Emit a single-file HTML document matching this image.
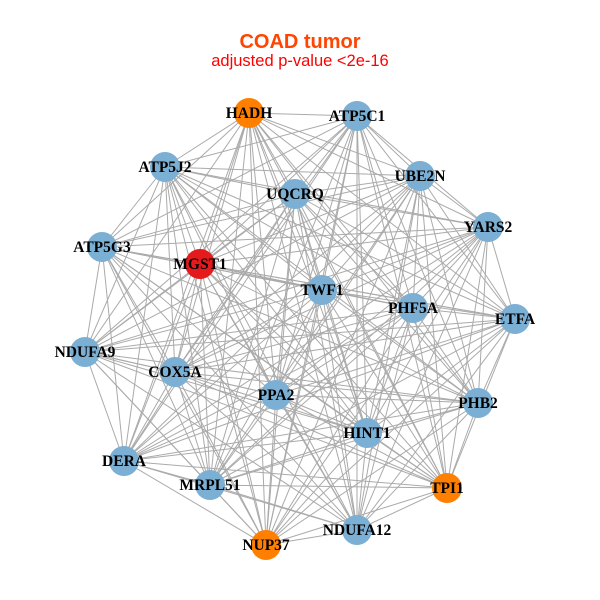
<!DOCTYPE html>
<html><head><meta charset="utf-8"><style>
body{margin:0;background:#fff}
svg{display:block}
.t{font-family:"Liberation Serif",serif;font-weight:bold;font-size:15.5px;text-anchor:middle;fill:#000}
</style></head><body>
<svg id="s" width="600" height="600" viewBox="0 0 600 600">
<text x="300" y="48" font-family="Liberation Sans, sans-serif" font-weight="bold" font-size="20" fill="#FF4500" text-anchor="middle">COAD tumor</text>
<text x="300" y="66" font-family="Liberation Sans, sans-serif" font-size="16.5" fill="#FF0000" text-anchor="middle">adjusted p-value &lt;2e-16</text>
<g id="e" stroke="#aaaaaa" stroke-width="1"></g>
<g id="n"></g>
</svg>
<script>
var N=[["HADH",249,113,"#FF7F00"],["ATP5C1",357,116],["ATP5J2",165,167],["UQCRQ",295,194],["UBE2N",420,176],["YARS2",488,227],["ATP5G3",102,247],["MGST1",200,264,"#E41A1C"],["TWF1",322,290],["PHF5A",413,308],["ETFA",515,319],["NDUFA9",85,352],["COX5A",175,372],["PPA2",276,395],["PHB2",478,403],["HINT1",367,433],["DERA",124,461],["TPI1",447,488,"#FF7F00"],["MRPL51",210,485],["NDUFA12",357,530],["NUP37",266,545,"#FF7F00"]];
var ns="http://www.w3.org/2000/svg",e=document.getElementById("e"),g=document.getElementById("n");
for(var i=0;i<N.length;i++)for(var j=i+1;j<N.length;j++){var l=document.createElementNS(ns,"line");l.setAttribute("x1",N[i][1]);l.setAttribute("y1",N[i][2]);l.setAttribute("x2",N[j][1]);l.setAttribute("y2",N[j][2]);e.appendChild(l);}
N.forEach(function(d){var c=document.createElementNS(ns,"circle");c.setAttribute("cx",d[1]);c.setAttribute("cy",d[2]);c.setAttribute("r",15);c.setAttribute("fill",d[3]||"#7BAFD4");g.appendChild(c);});
N.forEach(function(d){var t=document.createElementNS(ns,"text");t.setAttribute("x",d[1]);t.setAttribute("y",d[2]+5);t.setAttribute("class","t");t.textContent=d[0];g.appendChild(t);});
</script>
</body></html>
